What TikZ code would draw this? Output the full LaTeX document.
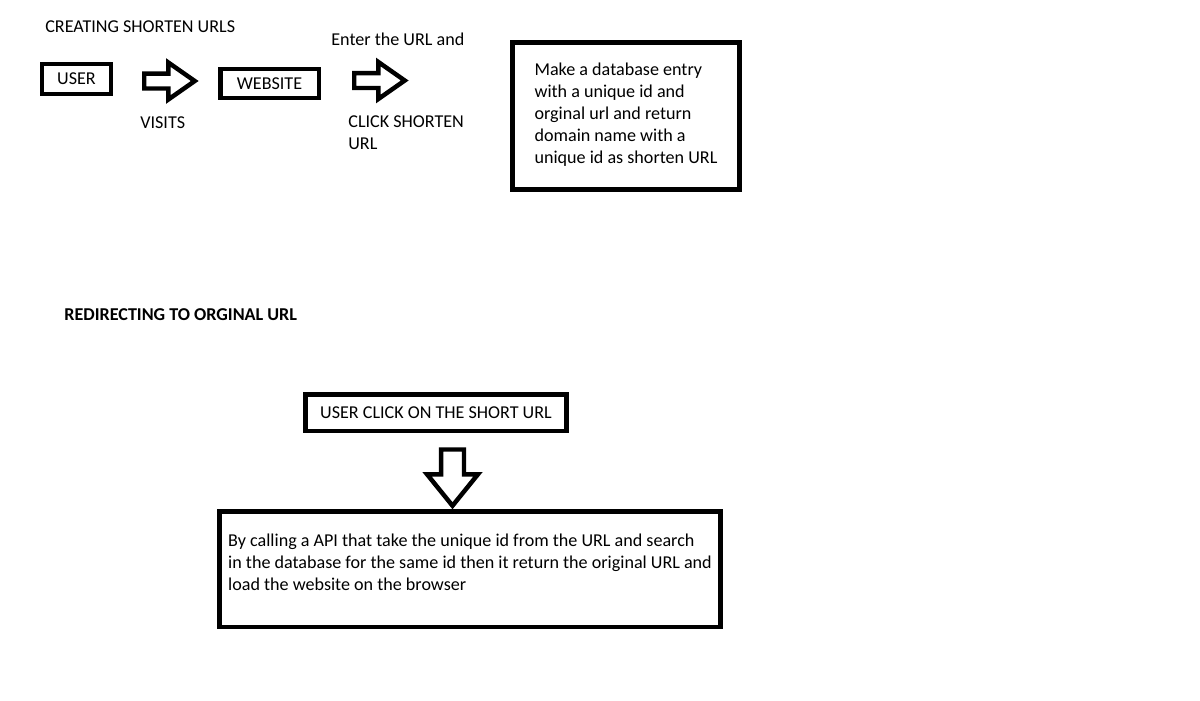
\documentclass[tikz,border=0pt]{standalone}
\usepackage{fontspec}
\setmainfont{Carlito}
\usetikzlibrary{shapes.arrows}

\tikzset{
  box/.style={draw=black,line width=2.55pt,rectangle,inner sep=0pt},
  fatarrow/.style={draw=black,line width=2.55pt,single arrow,inner xsep=0pt,inner ysep=0.105cm,
    minimum height=1.01cm,single arrow head extend=0.22cm,
    single arrow tip angle=70,anchor=tail},
  lbl/.style={inner sep=0pt,anchor=west,align=left}
}

\begin{document}
\begin{tikzpicture}[x=0.02cm,y=-0.02cm,font=\fontsize{10.3pt}{12.5pt}\selectfont]
			\useasboundingbox[fill=white] (0,0) rectangle (1200,700);
			% creating
			\node[lbl] (title1) at (45,27) {CREATING SHORTEN URLS};
			\node[box,minimum width=1.37cm,minimum height=0.59cm] (user) at (76.5,79) {USER};
			\node[fatarrow] (visitarrow) at (142,81) {};
			\node[lbl] (visits) at (140,123) {VISITS};
			\node[box,minimum width=1.97cm,minimum height=0.57cm] (website) at (269.5,83.5) {WEBSITE};
			\node[lbl] (enter) at (331,39) {Enter the URL and};
			\node[fatarrow] (clickarrow) at (352,80.5) {};
			\node[lbl,anchor=north west] (click) at (348,115) {CLICK SHORTEN\\URL};
			\node[box,minimum width=4.55cm,minimum height=2.95cm,align=left] (entry) at (626,116)
				{Make a database entry\\with a unique id and\\orginal url and return\\domain name with a\\unique id as shorten URL\\[-9.5pt]\mbox{}};
			% redirecting
			\node[lbl,font=\fontsize{10.3pt}{12.5pt}\selectfont\bfseries] (title2) at (64,315) {REDIRECTING TO ORGINAL URL};
			\node[box,minimum width=5.23cm,minimum height=0.73cm] (shortclick) at (436,412.5) {USER CLICK ON THE SHORT URL};
			\node[fatarrow,rotate=-90,minimum height=1.125cm,inner ysep=0.185cm,
				single arrow head extend=0.28cm,single arrow tip angle=78] (downarrow) at (452.5,447.25) {};
			\node[box,minimum width=10.03cm,minimum height=2.31cm,align=left] (lookup) at (470,569)
				{By calling a API that take the unique id from the URL and search\\in the database for the same id then it return the original URL and\\load the website on the browser\\[-4.6pt]\mbox{}};
		\end{tikzpicture}
\end{document}
